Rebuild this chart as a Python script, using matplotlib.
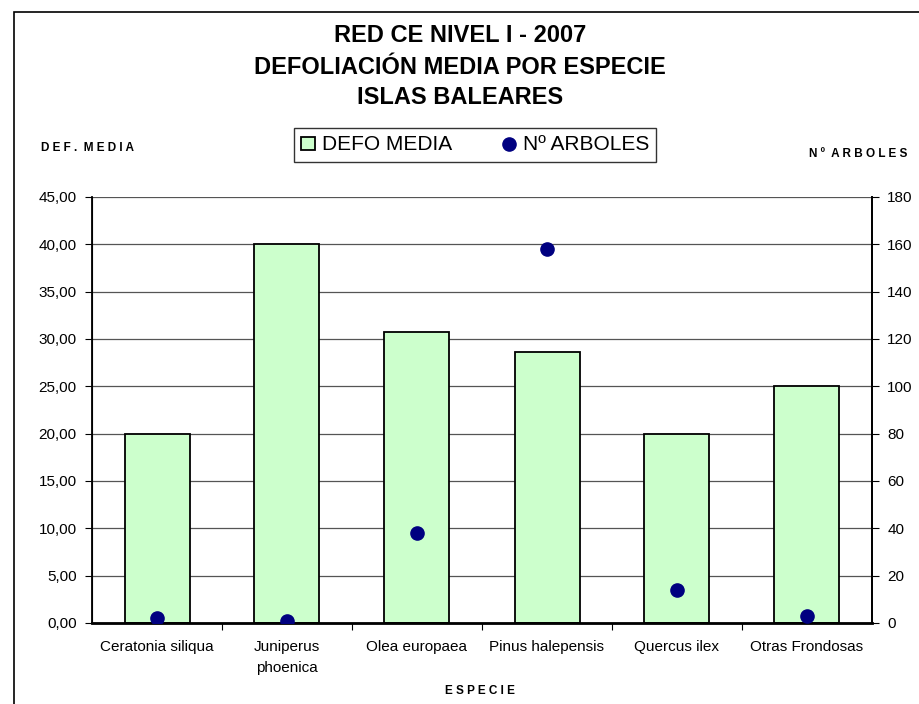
import matplotlib
matplotlib.use("Agg")
import matplotlib.pyplot as plt
from matplotlib.patches import Rectangle
from matplotlib.ticker import FuncFormatter

plt.rcParams['font.family'] = ['Liberation Sans Narrow', 'Liberation Sans', 'DejaVu Sans']

# datos
especies = ["Ceratonia siliqua", "Juniperus\nphoenica", "Olea europaea",
            "Pinus halepensis", "Quercus ilex", "Otras Frondosas"]
defo_media = [20.0, 40.0, 30.7, 28.6, 20.0, 25.0]
n_arboles = [2, 1, 38, 158, 14, 3]

fig = plt.figure(figsize=(9.2, 7.04), dpi=100)

# marco exterior del grafico (se sale por la derecha y abajo)
fig.patches.append(Rectangle((14 / 920, -0.1), 1.0, 1.1 - 12 / 704, transform=fig.transFigure,
                             fill=False, edgecolor="black", linewidth=1.2))

ax = fig.add_axes([92 / 920, 81 / 704, 780 / 920, 426 / 704])
x = list(range(len(especies)))

ax.bar(x, defo_media, width=0.5, color="#CCFFCC", edgecolor="black", linewidth=1.3, zorder=2,
       label="DEFO MEDIA")
ax.set_xlim(-0.5, len(especies) - 0.5)
ax.set_ylim(0, 45)
ax.set_yticks(range(0, 46, 5))
ax.yaxis.set_major_formatter(FuncFormatter(lambda v, p: f"{v:.2f}".replace(".", ",")))
ax.grid(axis="y", color="#555555", linewidth=0.9, zorder=0)

ax.set_xticks([i + 0.5 for i in range(len(especies) - 1)])
ax.set_xticklabels([])
ax.set_xticks(x, minor=True)
ax.set_xticklabels(especies, minor=True, fontsize=11, linespacing=1.7)
ax.tick_params(axis="x", which="minor", length=0, pad=12)
ax.tick_params(axis="x", which="major", length=5, direction="out")
ax.tick_params(axis="y", labelsize=11, length=5, direction="out", pad=6)

ax.spines["top"].set_visible(False)
ax.spines["bottom"].set_linewidth(2)
ax.spines["left"].set_linewidth(1.3)
ax.spines["right"].set_linewidth(1.3)

ax2 = ax.twinx()
ax2.plot(x, n_arboles, linestyle="none", marker="o", markersize=9.5, color="#000080",
         label="Nº ARBOLES", zorder=3)
ax2.set_ylim(0, 180)
ax2.set_yticks(range(0, 181, 20))
ax2.tick_params(axis="y", labelsize=11, length=5, direction="out", pad=6)
ax2.spines["top"].set_visible(False)
ax2.spines["right"].set_linewidth(1.3)

# titulos y rotulos
fig.text(0.5, 1 - 35 / 704, "RED CE NIVEL I - 2007", ha="center", va="center",
         fontsize=17, fontweight="bold")
fig.text(0.5, 1 - 67 / 704, "DEFOLIACIÓN MEDIA POR ESPECIE", ha="center", va="center",
         fontsize=17, fontweight="bold")
fig.text(0.5, 1 - 98 / 704, "ISLAS BALEARES", ha="center", va="center",
         fontsize=17, fontweight="bold")

fig.text(88 / 920, 1 - 148 / 704, "D E F .  M E D I A", ha="center", va="center",
         fontsize=8.5, fontweight="bold", family=['Liberation Sans', 'DejaVu Sans'])
fig.text(858 / 920, 1 - 154 / 704, "N º  A R B O L E S", ha="center", va="center",
         fontsize=8.5, fontweight="bold", family=['Liberation Sans', 'DejaVu Sans'])
fig.text(480 / 920, 1 - 691 / 704, "E S P E C I E", ha="center", va="center",
         fontsize=8.5, fontweight="bold", family=['Liberation Sans', 'DejaVu Sans'])

h1, l1 = ax.get_legend_handles_labels()
h2, l2 = ax2.get_legend_handles_labels()
leg = fig.legend(h1 + h2, l1 + l2, loc="center", bbox_to_anchor=(475 / 920, 1 - 145 / 704),
                 ncol=2, fontsize=15, frameon=True, fancybox=False, edgecolor="black",
                 handlelength=0.7, handleheight=0.6, handletextpad=0.3, columnspacing=2.4,
                 borderpad=0.35)
leg.get_frame().set_linewidth(1.0)

fig.savefig("out.png", dpi=100)
